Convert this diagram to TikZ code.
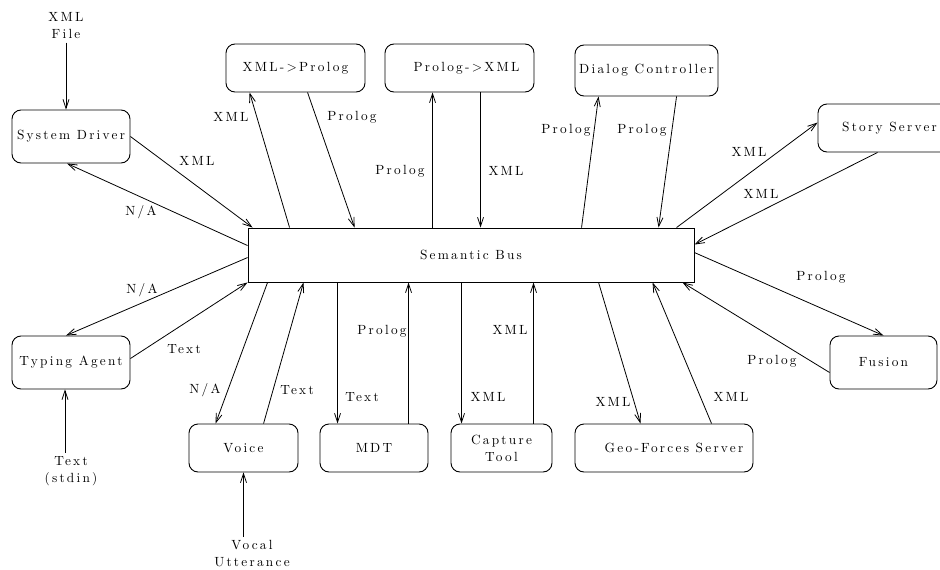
\documentclass[tikz,border=0pt]{standalone}
\usepackage{fontspec}
\setmainfont{lmroman10-regular}[Extension=.otf,LetterSpace=17]
\usetikzlibrary{arrows.meta}
\tikzset{every node/.style={font=\fontsize{13.3}{17}\selectfont}}
\tikzset{module/.style={draw,rounded corners=9pt,line width=.9pt,inner sep=0pt,align=center}}
\tikzset{flow/.style={-{Straight Barb[length=9pt,width=6pt]},line width=.8pt}}

\begin{document}
\begin{tikzpicture}[x=1pt,y=-1pt]
\useasboundingbox (0,0) rectangle (940,570);
\node[module,name=bus,minimum width=446pt,minimum height=54pt,sharp corners] at (471,255) {Semantic Bus};
\node[module,name=drv,minimum width=118pt,minimum height=53pt] at (71,136.5) {System Driver};
\node[module,name=x2p,minimum width=139pt,minimum height=48pt] at (295.5,68) {XML->Prolog};
\node[module,name=p2x,minimum width=149pt,minimum height=48pt] at (459.5,68) {\hspace*{14pt}Prolog->XML};
\node[module,name=dlg,minimum width=143pt,minimum height=51pt] at (646.5,70.5) {Dialog Controller};
\node[module,name=story,minimum width=143pt,minimum height=48pt] at (889.5,128) {Story Server};
\node[module,name=typ,minimum width=118pt,minimum height=53pt] at (71,362.5) {Typing Agent};
\node[module,name=fus,minimum width=107pt,minimum height=53pt] at (883.5,362.5) {Fusion};
\node[module,name=voice,minimum width=109pt,minimum height=48pt] at (243.5,448) {Voice};
\node[module,name=mdt,minimum width=108pt,minimum height=48pt] at (374,448) {MDT};
\node[module,name=cap,minimum width=101pt,minimum height=48pt] at (501.5,448) {Capture\\Tool};
\node[module,name=geo,minimum width=178pt,minimum height=48pt] at (664,448) {\hspace*{20pt}Geo-Forces Server};
\node[align=center,name=xf] at (66,26) {XML\\File};
\node[align=center,name=si] at (71,471) {Text\\(stdin)};
\node[align=center,name=vu] at (252,554) {Vocal\\Utterance};
\draw[flow] (xf.south) to (xf.south |- drv.north);
\draw[flow] ([xshift=-6pt]si.north) to ([xshift=-6pt]si.north |- typ.south);
\draw[flow] (vu.north -| voice.south) to (voice.south);
\draw[flow] (drv.east) to ([xshift=5pt]bus.north west);
\draw[flow] ([yshift=-18pt]bus.north west) to ([xshift=-4pt]drv.south);
\draw[flow] ([xshift=42pt]bus.north west) to ([xshift=24pt]x2p.south west);
\draw[flow] ([xshift=82pt]x2p.south west) to ([xshift=107pt]bus.north west);
\draw[flow] ([xshift=185pt]bus.north west) to ([xshift=48pt]p2x.south west);
\draw[flow] ([xshift=96pt]p2x.south west) to ([xshift=233pt]bus.north west);
\draw[flow] ([xshift=334pt]bus.north west) to ([xshift=24pt]dlg.south west);
\draw[flow] ([xshift=102pt]dlg.south west) to ([xshift=411pt]bus.north west);
\draw[flow] ([xshift=429pt]bus.north west) to ([yshift=-19pt]story.north west);
\draw[flow] ([xshift=60pt]story.south west) to ([yshift=-17pt]bus.north east);
\draw[flow] ([yshift=-25pt]bus.north east) to (fus.north);
\draw[flow] ([yshift=-10pt]fus.west) to ([xshift=-12pt]bus.south east);
\draw[flow] ([xshift=351pt]bus.south west) to ([xshift=66pt]geo.north west);
\draw[flow] ([xshift=137pt]geo.north west) to ([xshift=405pt]bus.south west);
\draw[flow] ([xshift=214pt]bus.south west) to ([xshift=11pt]cap.north west);
\draw[flow] ([xshift=83pt]cap.north west) to ([xshift=286pt]bus.south west);
\draw[flow] ([xshift=90pt]bus.south west) to ([xshift=18pt]mdt.north west);
\draw[flow] ([xshift=89pt]mdt.north west) to ([xshift=161pt]bus.south west);
\draw[flow] ([xshift=20pt]bus.south west) to ([xshift=27pt]voice.north west);
\draw[flow] ([xshift=75pt]voice.north west) to ([xshift=56pt]bus.south west);
\draw[flow] ([yshift=-30pt]bus.north west) to ([xshift=-5pt]typ.north);
\draw[flow] ([yshift=4pt]typ.east) to (bus.south west);
\node[name=a1] at (197,161) {XML};
\node[name=a2] at (141,212) {N/A};
\node[name=a3] at (231,117) {XML};
\node[name=a4] at (352,117) {Prolog};
\node[name=a5] at (400,171) {Prolog};
\node[name=a6] at (506,171) {XML};
\node[name=a7] at (566,130) {Prolog};
\node[name=a8] at (642,130) {Prolog};
\node[name=a9] at (749,152) {XML};
\node[name=a10] at (761,194) {XML};
\node[name=a11] at (821,277) {Prolog};
\node[name=a12] at (772,361) {Prolog};
\node[name=a13] at (613,402) {XML};
\node[name=a14] at (731,397) {XML};
\node[name=a15] at (488,397) {XML};
\node[name=a16] at (510,330) {XML};
\node[name=a17] at (382,331) {Prolog};
\node[name=a18] at (362,397) {Text};
\node[name=a19] at (205,390) {N/A};
\node[name=a20] at (297,390) {Text};
\node[name=a21] at (142,290) {N/A};
\node[name=a22] at (184,349) {Text};
\end{tikzpicture}
\end{document}
